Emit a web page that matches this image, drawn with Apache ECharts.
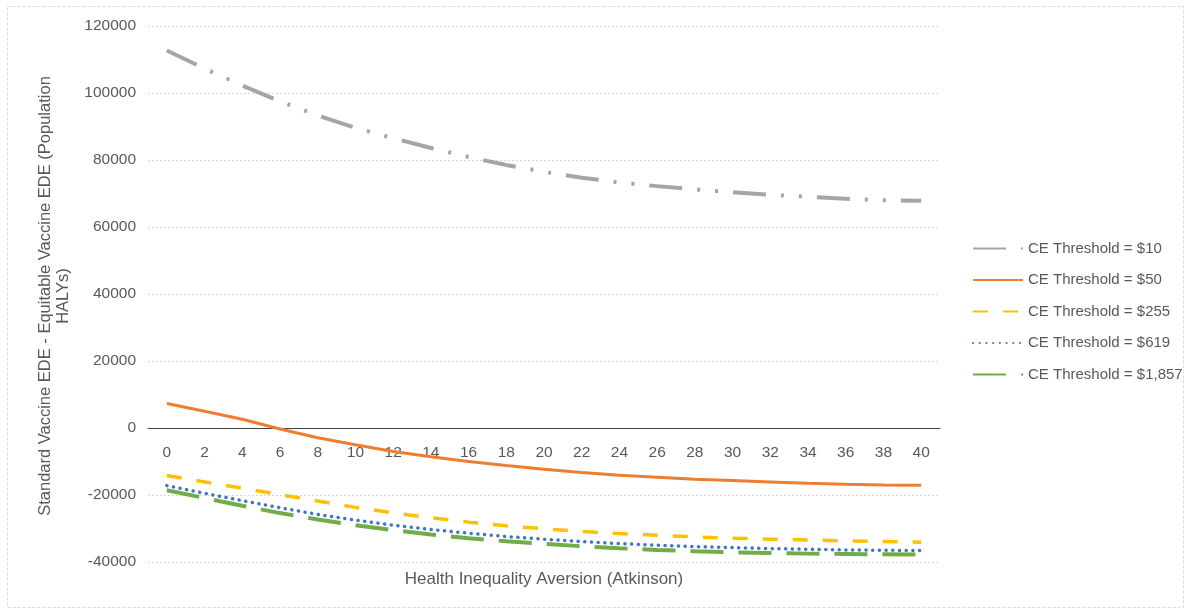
<!DOCTYPE html>
<html>
<head>
<meta charset="utf-8">
<script src="https://cdn.jsdelivr.net/npm/echarts@6/dist/echarts.min.js"></script>
<style>
html,body{margin:0;padding:0;background:#fff;}
#chart{width:1188px;height:610px;}
</style>
</head>
<body>
<div id="chart"></div>
<script>
const categories = ['0','2','4','6','8','10','12','14','16','18','20','22','24','26','28','30','32','34','36','38','40'];
const seriesNames = ['CE Threshold = $10','CE Threshold = $50','CE Threshold = $255','CE Threshold = $619','CE Threshold = $1,857'];
const t10   = [112700,107300,102200,97500,93300,89600,86500,83600,80900,78500,76500,74700,73300,72200,71200,70400,69600,69000,68400,68000,67800];
const t50   = [7300,5000,2600,-300,-2900,-5000,-7000,-8600,-10000,-11200,-12300,-13300,-14100,-14700,-15300,-15700,-16100,-16500,-16800,-17000,-17100];
const t255  = [-14200,-16100,-18000,-19900,-21800,-23700,-25300,-26800,-28100,-29200,-30100,-30900,-31500,-32000,-32500,-32900,-33200,-33400,-33700,-33900,-34100];
const t619  = [-17200,-19500,-21700,-23800,-25800,-27500,-29000,-30300,-31400,-32400,-33200,-33900,-34500,-35000,-35400,-35700,-36000,-36200,-36400,-36500,-36600];
const t1857 = [-18600,-20900,-23200,-25400,-27300,-29000,-30500,-31800,-32900,-33800,-34600,-35300,-35900,-36400,-36800,-37100,-37300,-37500,-37600,-37700,-37800];
const yTitle = 'Standard Vaccine EDE - Equitable Vaccine EDE (Population\nHALYs)';
const xTitle = 'Health Inequality Aversion (Atkinson)';
const yMin = -40000, yMax = 120000, yStep = 20000;

const FONT = 'Liberation Sans, Arial, sans-serif';
const TXT = '#595959';
const gridTop = 26, gridBottom = 48, chartH = 610;
// place the category axis on the zero line
const plotH = chartH - gridTop - gridBottom;
const zeroOffset = -(plotH * (0 - yMin) / (yMax - yMin));

const chart = echarts.init(document.getElementById('chart'));
chart.setOption({
  animation: false,
  backgroundColor: '#ffffff',
  textStyle: { fontFamily: FONT },
  grid: { left: 148, right: 248, top: gridTop, bottom: gridBottom, containLabel: false },
  legend: {
    orient: 'vertical',
    left: 967,
    top: 236,
    itemWidth: 50,
    itemHeight: 14,
    itemGap: 16.5,
    data: seriesNames,
    itemStyle: { opacity: 0 },
    textStyle: { color: TXT, fontSize: 15, fontFamily: FONT }
  },
  xAxis: {
    type: 'category',
    data: categories,
    boundaryGap: true,
    position: 'bottom',
    offset: zeroOffset,
    axisLine: { onZero: false, lineStyle: { color: '#404040', width: 1 } },
    axisTick: { show: false },
    axisLabel: { interval: 0, margin: 17, color: TXT, fontSize: 15.5, fontFamily: FONT },
    splitLine: { show: false }
  },
  yAxis: {
    type: 'value',
    min: yMin,
    max: yMax,
    interval: yStep,
    axisLine: { show: false },
    axisTick: { show: false },
    axisLabel: { margin: 12, color: TXT, fontSize: 15.5, fontFamily: FONT, formatter: v => String(v) },
    splitLine: { lineStyle: { color: '#d6d6d6', width: 1, type: [2, 2] } }
  },
  graphic: [
    { type: 'rect', silent: true, z: -10,
      shape: { x: 7.5, y: 6.5, width: 1176, height: 601 },
      style: { fill: null, stroke: '#d9d9d9', lineWidth: 1, lineDash: [3, 2] } },
    { type: 'text', x: 54, y: 296, rotation: Math.PI / 2,
      style: { text: yTitle, fill: TXT, font: '16.5px ' + FONT, align: 'center', verticalAlign: 'middle', lineHeight: 18 } },
    { type: 'text', x: 544, y: 579,
      style: { text: xTitle, fill: TXT, font: '17px ' + FONT, align: 'center', verticalAlign: 'middle' } }
  ],
  series: [
    { name: seriesNames[0], type: 'line', data: t10, symbol: 'none',
      lineStyle: { color: '#a5a5a5', width: 4, type: [33, 15, 3, 15, 3, 15], cap: 'butt' },
      itemStyle: { color: '#a5a5a5' } },
    { name: seriesNames[1], type: 'line', data: t50, symbol: 'none',
      lineStyle: { color: '#ed7d31', width: 3, type: 'solid' },
      itemStyle: { color: '#ed7d31' } },
    { name: seriesNames[2], type: 'line', data: t255, symbol: 'none',
      lineStyle: { color: '#ffc000', width: 3.5, type: [15, 15], cap: 'butt' },
      itemStyle: { color: '#ffc000' } },
    { name: seriesNames[3], type: 'line', data: t619, symbol: 'none',
      lineStyle: { color: '#4472c4', width: 3.5, type: [0.1, 6.6], cap: 'round' },
      itemStyle: { color: '#4472c4' } },
    { name: seriesNames[4], type: 'line', data: t1857, symbol: 'none',
      lineStyle: { color: '#70ad47', width: 4, type: [33, 15], cap: 'butt' },
      itemStyle: { color: '#70ad47' } }
  ]
});
</script>
</body>
</html>
